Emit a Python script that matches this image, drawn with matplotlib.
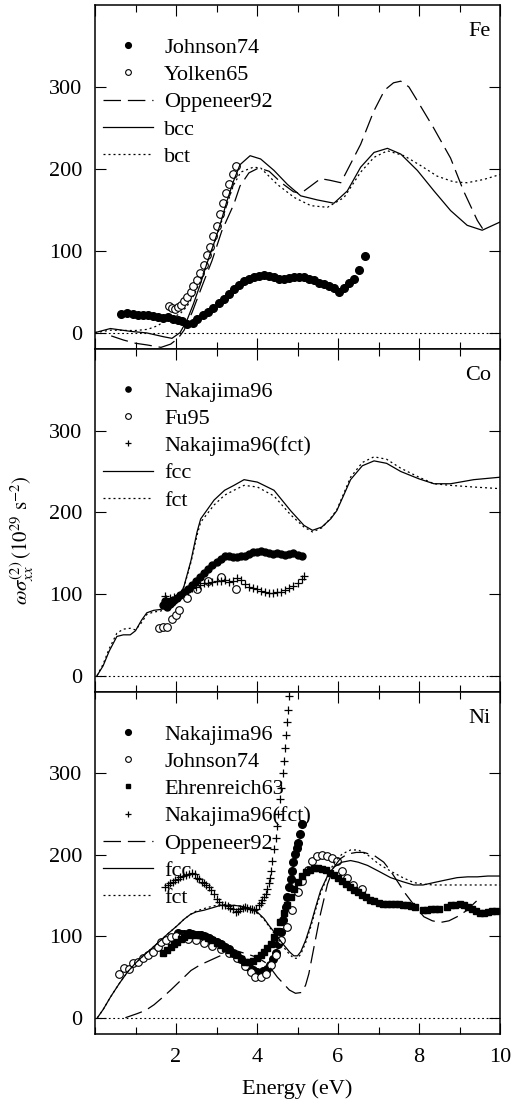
import numpy as np
import matplotlib
matplotlib.use("Agg")
import matplotlib.pyplot as plt
from matplotlib.ticker import MultipleLocator
from matplotlib.legend_handler import HandlerLine2D

plt.rcParams['font.family'] = ['Liberation Serif', 'DejaVu Serif']
plt.rcParams['mathtext.fontset'] = 'stix'

# ---------------- Fe ----------------
fe_bcc_x = [0, 0.38, 0.87, 1.28, 1.69, 1.9, 2.1, 2.27, 2.43, 2.6, 2.76, 2.93, 3.09, 3.26, 3.42, 3.58, 3.83,
            4.09, 4.42, 4.75, 5.08, 5.49, 5.9, 6.23, 6.56, 6.89, 7.22, 7.55, 7.96, 8.37, 8.78, 9.19, 9.56, 10]
fe_bcc_y = [0, 5, 1.6, -0.4, -5, -7, 0, 15, 35, 59, 84, 108, 132, 161, 185, 205, 216,
            212, 198, 181, 167, 162, 158, 173, 202, 220, 225, 218, 198, 173, 149, 131, 125, 135]
fe_bct_x = [0, 0.39, 0.98, 1.3, 1.55, 1.73, 1.9, 2.1, 2.27, 2.43, 2.6, 2.76, 2.93, 3.09, 3.26, 3.42, 3.6,
            3.91, 4.09, 4.5, 4.92, 5.33, 5.74, 6.15, 6.56, 6.89, 7.22, 7.63, 8.04, 8.45, 8.86, 9.19, 9.6, 10]
fe_bct_y = [0, 3, 2.5, 4, 8.5, 14.5, 18, 23, 32, 45, 62, 84, 107, 130, 157, 180, 196,
            202, 201, 181, 165, 155, 153, 165, 196, 214, 222, 216, 204, 191, 184, 183, 187, 193]
fe_opp_x = [0.4, 0.7, 1.0, 1.28, 1.63, 1.87, 2.05, 2.2, 2.4, 2.66, 2.89, 3.13, 3.43, 3.58, 3.8, 4.04, 4.3,
            4.6, 4.9, 5.08, 5.3, 5.57, 5.8, 6.07, 6.3, 6.56, 6.88, 7.15, 7.37, 7.55, 7.75, 7.96, 8.36, 8.78,
            9.1, 9.44, 9.57]
fe_opp_y = [-4, -9, -13, -15, -18, -14, -7, 3, 25, 59, 88, 124, 157, 179, 195, 201, 197,
            183, 172, 170, 178, 188, 186, 183, 205, 230, 270, 296, 305, 307, 300, 283, 250, 213,
            173, 137, 127]
fe_john_x = [0.64, 0.78, 0.93, 1.06, 1.18, 1.30, 1.43, 1.56, 1.69, 1.81, 1.93, 2.04, 2.16, 2.28, 2.41,
             2.53, 2.66, 2.78, 2.92, 3.07, 3.19, 3.31, 3.44, 3.56, 3.68, 3.80, 3.93, 4.05, 4.17, 4.30,
             4.42, 4.54, 4.66, 4.79, 4.91, 5.04, 5.16, 5.28, 5.41, 5.53, 5.65, 5.78, 5.90, 6.02, 6.15,
             6.27, 6.40, 6.52, 6.67]
fe_john_y = [23, 23.5, 22.5, 22, 22, 21, 20.5, 19, 18, 18.5, 17, 15, 14, 11, 12,
             17, 21, 25, 30, 36, 41, 47, 53, 58, 63, 66, 68, 69, 70, 69,
             68, 65, 66, 67, 68, 68.5, 68, 66, 64, 61, 59, 57, 55, 50, 55,
             61, 66, 77, 93]
fe_yolk_x = [1.82, 1.9, 1.97, 2.05, 2.12, 2.2, 2.28, 2.36, 2.43, 2.52, 2.6, 2.68, 2.76, 2.84, 2.92,
             3.0, 3.08, 3.16, 3.24, 3.32, 3.40, 3.47]
fe_yolk_y = [33, 30, 29, 31, 34, 38, 44, 50, 57, 64, 73, 82, 95, 105, 118,
             130, 145, 158, 170, 182, 194, 203]

# ---------------- Co ----------------
co_fcc_x = [0.05, 0.2, 0.35, 0.54, 0.7, 0.87, 1.0, 1.15, 1.28, 1.45, 1.61, 1.86, 2.0, 2.12, 2.2, 2.37,
            2.52, 2.61, 2.94, 3.2, 3.43, 3.68, 4.01, 4.42, 4.83, 5.16, 5.37, 5.6, 5.82, 5.97, 6.15, 6.31,
            6.6, 6.89, 7.2, 7.55, 8.0, 8.37, 8.78, 9.35, 10]
co_fcc_y = [0, 12, 30, 48, 50, 50, 55, 68, 77, 80, 81, 85, 90, 100, 110, 141,
            176, 192, 215, 227, 233, 240, 237, 227, 202, 184, 178, 182, 192, 202, 222, 240,
            257, 263, 260, 250, 241, 235, 235, 240, 243]
co_fct_y = [0, 14, 33, 52, 57, 58, 56, 65, 75, 78, 79, 83, 88, 100, 109, 139,
            172, 188, 209, 221, 227, 233, 231, 220, 197, 182, 176, 181, 193, 203, 224, 243,
            261, 268, 265, 254, 243, 235, 233, 231, 229]
co_nak_x = [1.68, 1.72, 1.78, 1.84, 1.9, 1.96, 2.02, 2.1, 2.2, 2.3, 2.4, 2.5, 2.6, 2.7, 2.8, 2.9, 3.0,
            3.1, 3.2, 3.3, 3.4, 3.5, 3.6, 3.7, 3.8, 3.9, 4.0, 4.1, 4.2, 4.3, 4.4, 4.5, 4.6, 4.7, 4.8,
            4.9, 5.0, 5.1]
co_nak_y = [86, 92, 84, 88, 90, 93, 95, 99, 102, 106, 111, 116, 121, 126, 131, 135, 139,
            143, 146, 146, 145, 145, 146, 147, 149, 151, 152, 153, 151, 150, 149, 150, 149, 148, 149,
            150, 148, 146]
co_fu_x = [1.59, 1.68, 1.78, 1.9, 1.99, 2.08, 2.28, 2.53, 2.78, 3.1, 3.48]
co_fu_y = [58, 59, 60, 69, 74, 80, 95, 106, 116, 121, 106]
co_nakfct_x = [1.72, 1.76, 1.8, 1.85, 1.9, 1.95, 2.0, 2.05, 2.1, 2.2, 2.3, 2.4, 2.5, 2.6, 2.7, 2.8, 2.9,
               3.0, 3.1, 3.2, 3.3, 3.4, 3.5, 3.6, 3.7, 3.8, 3.9, 4.0, 4.1, 4.2, 4.3, 4.4, 4.5, 4.6,
               4.7, 4.8, 4.9, 5.0, 5.1, 5.16]
co_nakfct_y = [97, 94, 90, 95, 93, 96, 94, 97, 99, 101, 104, 107, 109, 111, 113, 114, 115,
               116, 116, 117, 115, 116, 119, 117, 112, 109, 107, 106, 104, 102, 101, 101, 102, 103,
               105, 107, 110, 114, 118, 122]

# ---------------- Ni ----------------
ni_fcc_x = [0.06, 0.2, 0.39, 0.6, 0.8, 1.0, 1.21, 1.42, 1.62, 1.82, 2.03, 2.2, 2.36, 2.5, 2.69, 2.9, 3.1,
            3.27, 3.43, 3.6, 3.84, 4.0, 4.17, 4.3, 4.46, 4.6, 4.7, 4.8, 4.91, 5.0, 5.08, 5.2, 5.33, 5.45,
            5.57, 5.75, 5.9, 6.1, 6.31, 6.5, 6.73, 7.0, 7.3, 7.6, 7.87, 8.1, 8.37, 8.65, 8.94, 9.2, 9.44,
            9.7, 10]
ni_fcc_y = [0, 10, 26, 42, 56, 67, 77, 86, 95, 104, 113, 121, 127, 130, 132, 135, 138,
            138, 138, 137, 134, 130, 122, 113, 103, 93, 87, 81, 76, 76, 81, 95, 115, 136,
            156, 175, 185, 191, 193, 191, 187, 180, 172, 167, 163, 163, 166, 169, 172, 173, 173,
            174, 174]
ni_fct_y = [0, 10, 26, 42, 56, 67, 77, 86, 95, 104, 113, 121, 127, 131, 134, 137, 139,
            139, 138, 137, 134, 129, 121, 112, 101, 91, 84, 78, 73, 73, 78, 92, 112, 133,
            153, 175, 190, 201, 206, 206, 200, 189, 180, 172, 166, 164, 163, 163, 163, 163, 163,
            163, 163]
ni_opp_x = [0.75, 1.04, 1.25, 1.46, 1.67, 1.87, 2.1, 2.37, 2.6, 2.78, 3.0, 3.27, 3.5, 3.77, 4.01, 4.2,
            4.35, 4.5, 4.65, 4.8, 4.95, 5.1, 5.2, 5.28, 5.4, 5.57, 5.74, 5.9, 6.05, 6.23, 6.45, 6.64,
            6.9, 7.13, 7.3, 7.46, 7.67, 7.9, 8.12, 8.33, 8.53, 8.74, 8.94, 9.19, 9.35, 9.52]
ni_opp_y = [0, 5, 9, 16, 25, 34, 45, 58, 65, 69, 74, 80, 82, 78, 74, 68,
            60, 50, 42, 34, 30, 31, 40, 54, 85, 128, 164, 185, 195, 201, 203, 203,
            199, 191, 180, 168, 152, 137, 124, 119, 117, 119, 124, 132, 140, 148]
ni_nak_x = [2.05, 2.12, 2.19, 2.26, 2.33, 2.4, 2.47, 2.54, 2.61, 2.68, 2.75, 2.82, 2.9, 3.0, 3.1, 3.2,
            3.3, 3.4, 3.5, 3.6, 3.7, 3.8, 3.9, 4.0, 4.08, 4.16, 4.24, 4.32, 4.4, 4.47, 4.53, 4.59, 4.65,
            4.71, 4.75, 4.79, 4.83, 4.87, 4.9, 4.94, 4.98, 5.01, 5.06, 5.12]
ni_nak_y = [104, 103, 103, 102, 104, 103, 102, 101, 101, 100, 99, 98, 96, 93, 90, 87,
            84, 80, 76, 72, 67, 62, 58, 56, 55, 57, 60, 65, 72, 80, 91, 105, 120,
            136, 148, 160, 170, 180, 191, 201, 208, 214, 225, 238]
ni_john_x = [0.6, 0.72, 0.85, 0.93, 1.06, 1.18, 1.3, 1.42, 1.55, 1.63, 1.75, 1.87, 2.0, 2.15, 2.3, 2.5,
             2.7, 2.9, 3.1, 3.3, 3.5, 3.7, 3.85, 3.96, 4.09, 4.21, 4.34, 4.46, 4.59, 4.75, 4.87, 5.0,
             5.12, 5.25, 5.37, 5.49, 5.61, 5.74, 5.86, 5.98, 6.11, 6.23, 6.36, 6.6]
ni_john_y = [54, 61, 60, 67, 69, 73, 77, 81, 87, 93, 96, 99, 100, 99, 97, 95,
             92, 88, 84, 79, 73, 64, 56, 50, 50, 54, 65, 77, 95, 111, 132, 154,
             168, 182, 193, 199, 200, 199, 196, 192, 180, 172, 163, 158]
ni_ehr_x = [1.67, 1.77, 1.87, 1.95, 2.03, 2.12, 2.2, 2.3, 2.4, 2.5, 2.6, 2.7, 2.8, 2.9, 3.0, 3.1, 3.2,
            3.3, 3.4, 3.5, 3.6, 3.7, 3.8, 3.9, 4.0, 4.1, 4.17, 4.25, 4.34, 4.42, 4.5, 4.58, 4.67, 4.75,
            4.83, 4.92, 5.0, 5.1, 5.2, 5.3, 5.4, 5.5, 5.6, 5.7, 5.8, 5.9, 6.0, 6.1, 6.2, 6.3, 6.4, 6.5,
            6.6, 6.7, 6.8, 6.9, 7.0, 7.1, 7.2, 7.3, 7.4, 7.5, 7.6, 7.7, 7.8, 7.9, 8.1, 8.2, 8.3, 8.4,
            8.5, 8.7, 8.8, 8.9, 9.0, 9.1, 9.2, 9.3, 9.4, 9.5, 9.6, 9.7, 9.8, 9.9]
ni_ehr_y = [79, 83, 87, 90, 93, 97, 99, 101, 103, 102, 101, 100, 98, 96, 92, 89, 86,
            83, 80, 77, 72, 69, 69, 70, 73, 77, 81, 86, 91, 99, 107, 118, 128, 138,
            148, 158, 167, 174, 179, 182, 184, 184, 183, 181, 178, 175, 172, 168, 164, 161, 157, 154,
            151, 148, 145, 143, 141, 140, 140, 140, 140, 140, 139, 138, 137, 136, 132, 132, 133, 133,
            134, 136, 138, 139, 140, 138, 136, 134, 131, 129, 128, 130, 131, 131]
ni_nakfct_x = [1.74, 1.8, 1.86, 1.92, 1.98, 2.04, 2.11, 2.18, 2.25, 2.32, 2.4, 2.46, 2.52, 2.58, 2.64,
               2.69, 2.75, 2.81, 2.87, 2.93, 3.0, 3.06, 3.14, 3.22, 3.28, 3.34, 3.4, 3.47, 3.53, 3.59,
               3.65, 3.71, 3.76, 3.82, 3.87, 3.92, 3.98, 4.04, 4.09, 4.13, 4.17, 4.21, 4.25, 4.29,
               4.32, 4.35, 4.38, 4.42, 4.46, 4.49, 4.53, 4.57, 4.6, 4.63, 4.67, 4.69, 4.72, 4.75,
               4.77, 4.79]
ni_nakfct_y = [160, 163, 165, 167, 169, 170, 173, 174, 175, 176, 178, 176, 172, 170, 167,
               166, 163, 160, 157, 152, 146, 142, 139, 138, 137, 135, 133, 130, 131, 133,
               135, 136, 135, 134, 133, 132, 134, 138, 141, 144, 148, 152, 158, 165,
               172, 180, 193, 207, 221, 235, 250, 268, 282, 300, 315, 331, 347, 363,
               378, 395]

xticks_major = [2, 4, 6, 8, 10]
yticks_major = [0, 100, 200, 300]


class RightMarker(HandlerLine2D):
    def get_xdata(self, legend, xdescent, ydescent, width, height, fontsize):
        xd, xm = super().get_xdata(legend, xdescent, ydescent, width, height, fontsize)
        return xd, np.array([width - xdescent - 0.1 * fontsize])


W, H = 511, 1100
fig = plt.figure(figsize=(W / 100, H / 100), dpi=100)
left, right = 95, 500
edges = [5, 349, 692, 1034]
axes = []
for i in range(3):
    t, b = edges[i], edges[i + 1]
    ax = fig.add_axes([left / W, 1 - b / H, (right - left) / W, (b - t) / H])
    axes.append(ax)

LW = 0.9
DASH = (0, (14, 5.5))
DOT = (0, (1.6, 2.4))
FS = 16

def style(ax, label, bottom):
    ax.set_xlim(0, 10)
    ax.set_ylim(-20, 400)
    ax.xaxis.set_major_locator(MultipleLocator(2))
    ax.xaxis.set_minor_locator(MultipleLocator(1))
    ax.set_yticks(yticks_major)
    ax.tick_params(which='both', direction='in', top=True, right=True, labelsize=FS, width=0.8)
    ax.tick_params(which='major', length=8)
    ax.tick_params(which='minor', length=5)
    ax.tick_params(axis='y', pad=9)
    ax.tick_params(axis='x', pad=10)
    if bottom:
        ax.set_xticks(xticks_major)
        ax.set_xlabel('Energy (eV)', fontsize=FS, labelpad=9)
    else:
        ax.tick_params(axis='x', labelbottom=False)
    for s in ax.spines.values():
        s.set_linewidth(1.1)
    ax.axhline(0, color='k', lw=0.8, ls=DOT, zorder=1)
    ax.text(0.977, 0.922, label, transform=ax.transAxes, ha='right', va='center', fontsize=16)

def add_legend(ax, handles):
    lg = ax.legend(handles=handles, loc='upper left', bbox_to_anchor=(0.02, 0.906),
                   frameon=False, fontsize=FS, borderpad=0, borderaxespad=0,
                   handlelength=2.25, handletextpad=0.5, labelspacing=0.3, markerscale=0.75,
                   handler_map={h: RightMarker(numpoints=1) for h in handles if h.get_linestyle() in ('None', '')})
    return lg

# ---- Fe
ax = axes[0]
h1, = ax.plot(fe_john_x, fe_john_y, ls='None', marker='o', ms=5.5, color='k', label='Johnson74')
h2, = ax.plot(fe_yolk_x, fe_yolk_y, ls='None', marker='o', ms=5.5, mfc='white', mec='k', mew=0.8,
              label='Yolken65')
h3, = ax.plot(fe_opp_x, fe_opp_y, color='k', lw=LW, ls=DASH, label='Oppeneer92')
h4, = ax.plot(fe_bcc_x, fe_bcc_y, color='k', lw=LW, label='bcc')
h5, = ax.plot(fe_bct_x, fe_bct_y, color='k', lw=LW, ls=DOT, label='bct')
style(ax, 'Fe', False)
add_legend(ax, [h1, h2, h3, h4, h5])

# ---- Co
ax = axes[1]
h1, = ax.plot(co_nak_x, co_nak_y, ls='None', marker='o', ms=5, color='k', label='Nakajima96')
h2, = ax.plot(co_fu_x, co_fu_y, ls='None', marker='o', ms=5.5, mfc='white', mec='k', mew=0.8,
              label='Fu95')
h3, = ax.plot(co_nakfct_x, co_nakfct_y, ls='None', marker='+', ms=6, mew=0.9, color='k',
              label='Nakajima96(fct)')
h4, = ax.plot(co_fcc_x, co_fcc_y, color='k', lw=LW, label='fcc')
h5, = ax.plot(co_fcc_x, co_fct_y, color='k', lw=LW, ls=DOT, label='fct')
style(ax, 'Co', False)
add_legend(ax, [h1, h2, h3, h4, h5])
ax.set_ylabel(r'$\omega\sigma^{(2)}_{xx}\,(10^{29}\ \mathrm{s}^{-2})$', fontsize=15)
ax.yaxis.set_label_coords(-0.145, 0.443)

# ---- Ni
ax = axes[2]
h1, = ax.plot(ni_nak_x, ni_nak_y, ls='None', marker='o', ms=5.5, color='k', label='Nakajima96')
h2, = ax.plot(ni_john_x, ni_john_y, ls='None', marker='o', ms=5.5, mfc='white', mec='k', mew=0.8,
              label='Johnson74')
h3, = ax.plot(ni_ehr_x, ni_ehr_y, ls='None', marker='s', ms=4.5, color='k', label='Ehrenreich63')
h4, = ax.plot(ni_nakfct_x, ni_nakfct_y, ls='None', marker='+', ms=6, mew=0.9, color='k',
              label='Nakajima96(fct)')
h5, = ax.plot(ni_opp_x, ni_opp_y, color='k', lw=LW, ls=DASH, label='Oppeneer92')
h6, = ax.plot(ni_fcc_x, ni_fcc_y, color='k', lw=LW, label='fcc')
h7, = ax.plot(ni_fcc_x, ni_fct_y, color='k', lw=LW, ls=DOT, label='fct')
style(ax, 'Ni', True)
add_legend(ax, [h1, h2, h3, h4, h5, h6, h7])

fig.savefig('out.png', dpi=100)
